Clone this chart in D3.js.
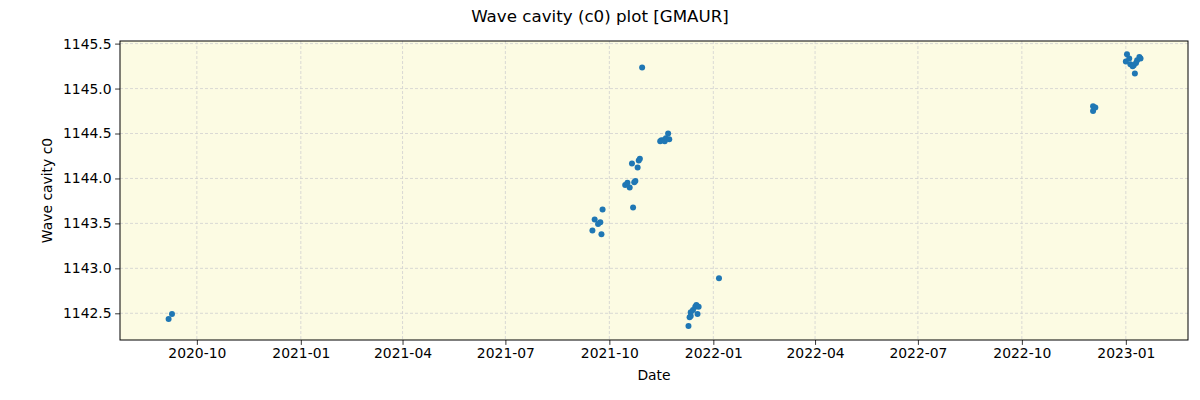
<!DOCTYPE html>
<html><head><meta charset="utf-8">
<script src="https://cdn.jsdelivr.net/npm/d3@7"></script>
<style>body{margin:0;background:#fff}svg text{font-family:"DejaVu Sans",sans-serif}</style>
</head><body><svg id="c" width="1200" height="400"></svg>
<script>
const dates = ["2020-09-06","2020-09-09",
"2021-09-16","2021-09-18","2021-09-21","2021-09-23","2021-09-24","2021-09-25",
"2021-10-15","2021-10-17","2021-10-19","2021-10-21","2021-10-22","2021-10-23","2021-10-24","2021-10-26","2021-10-27","2021-10-28","2021-10-30",
"2021-11-15","2021-11-16","2021-11-18","2021-11-19","2021-11-20","2021-11-22","2021-11-23",
"2021-12-10","2021-12-11","2021-12-12","2021-12-12","2021-12-14","2021-12-16","2021-12-17","2021-12-18","2021-12-19","2022-01-06",
"2022-12-03","2022-12-03","2022-12-05",
"2023-01-01","2023-01-02","2023-01-04","2023-01-05","2023-01-07","2023-01-08","2023-01-09","2023-01-10","2023-01-11","2023-01-13","2023-01-14"];
const values = [1142.437,1142.492,
1143.422,1143.544,1143.492,1143.514,1143.378,1143.656,
1143.926,1143.951,1143.900,1144.167,1143.678,1143.959,1143.973,1144.122,1144.200,1144.218,1145.233,
1144.414,1144.426,1144.426,1144.414,1144.448,1144.500,1144.437,
1142.359,1142.456,1142.511,1142.470,1142.537,1142.573,1142.592,1142.492,1142.573,1142.889,
1144.803,1144.751,1144.789,
1145.300,1145.381,1145.333,1145.270,1145.248,1145.259,1145.167,1145.284,1145.314,1145.351,1145.333];
const xTicks = ["2020-10-01","2021-01-01","2021-04-01","2021-07-01","2021-10-01","2022-01-01","2022-04-01","2022-07-01","2022-10-01","2023-01-01"];
const yTicks = [1142.5,1143.0,1143.5,1144.0,1144.5,1145.0,1145.5];
const xDomain = ["2020-07-25","2023-02-25"];
const yDomain = [1142.203,1145.529];
const title = "Wave cavity (c0) plot [GMAUR]";
const xLabel = "Date", yLabel = "Wave cavity c0";

const parse = d3.utcParse("%Y-%m-%d");
const L=120,R=1188,T=41,B=340;
const svg = d3.select("#c");
const x = d3.scaleUtc().domain(xDomain.map(parse)).range([L,R]);
const y = d3.scaleLinear().domain(yDomain).range([B,T]);

svg.append("rect").attr("x",L).attr("y",T).attr("width",R-L).attr("height",B-T).attr("fill","#fcfbe3");

const grid = svg.append("g").attr("stroke","#d0d0d0").attr("stroke-width",0.8).attr("stroke-dasharray","3,2");
grid.selectAll(".gx").data(xTicks.map(parse)).join("line").attr("x1",d=>x(d)).attr("x2",d=>x(d)).attr("y1",T).attr("y2",B);
grid.selectAll(".gy").data(yTicks).join("line").attr("y1",d=>y(d)).attr("y2",d=>y(d)).attr("x1",L).attr("x2",R);

svg.append("g").selectAll("circle").data(dates.map((d,i)=>({d:parse(d),v:values[i]}))).join("circle")
 .attr("cx",p=>x(p.d)).attr("cy",p=>y(p.v)).attr("r",3).attr("fill","#1f77b4");

const xa = svg.append("g").attr("transform",`translate(0,${B})`)
 .call(d3.axisBottom(x).tickValues(xTicks.map(parse)).tickFormat(d3.utcFormat("%Y-%m")).tickSize(4.9).tickPadding(3.5));
const ya = svg.append("g").attr("transform",`translate(${L},0)`)
 .call(d3.axisLeft(y).tickValues(yTicks).tickFormat(d3.format(".1f")).tickSize(4.9).tickPadding(3.5));
[xa,ya].forEach(a=>{a.select(".domain").remove();a.selectAll("text").attr("font-size","13.9px").attr("fill","#000").attr("font-family","DejaVu Sans");a.selectAll("line").attr("stroke","#000").attr("stroke-width",0.8);});

svg.append("rect").attr("x",L).attr("y",T).attr("width",R-L).attr("height",B-T).attr("fill","none").attr("stroke","#000").attr("stroke-width",1);

svg.append("text").attr("x",600).attr("y",22).attr("text-anchor","middle").attr("font-size","16.7px").text(title);
svg.append("text").attr("x",(L+R)/2).attr("y",380).attr("text-anchor","middle").attr("font-size","13.9px").text(xLabel);
svg.append("text").attr("transform",`translate(52,${(T+B)/2}) rotate(-90)`).attr("text-anchor","middle").attr("font-size","13.9px").text(yLabel);
</script></body></html>
